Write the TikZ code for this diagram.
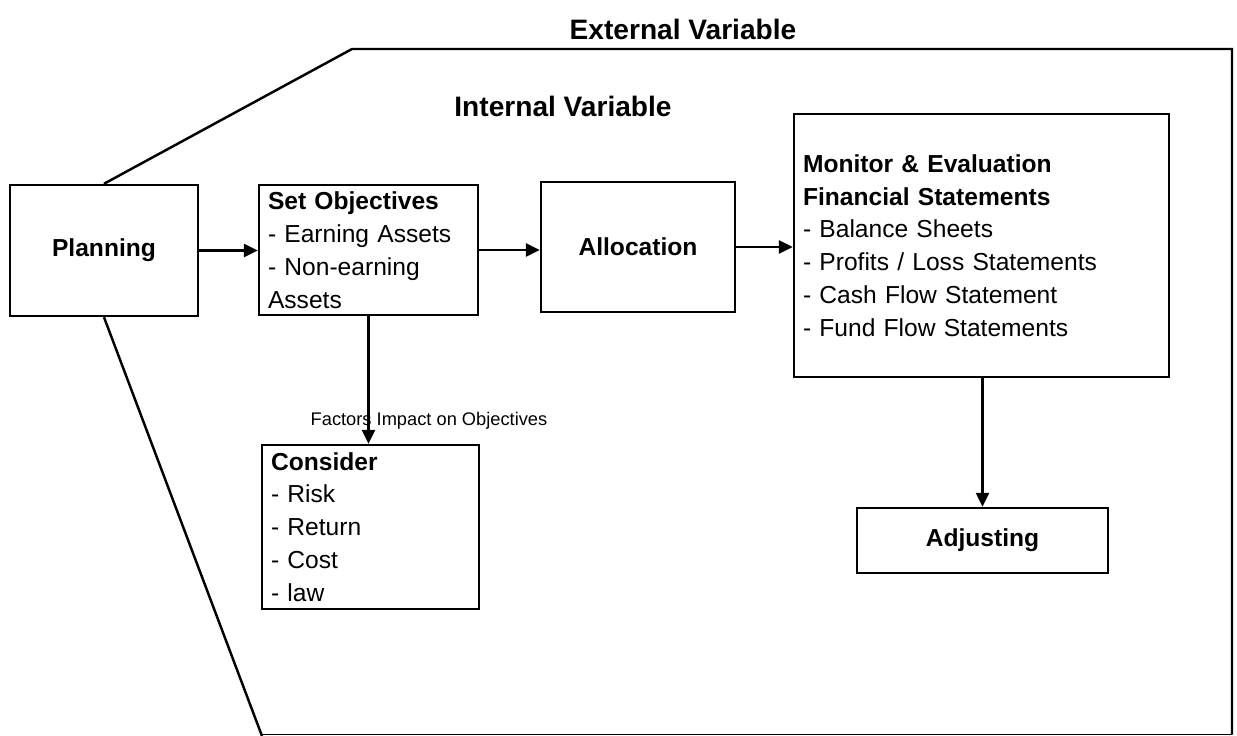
\documentclass[tikz,border=0pt]{standalone}
\usepackage{fontspec}
\setmainfont{Liberation Sans}
\usetikzlibrary{arrows.meta}
\begin{document}
\begin{tikzpicture}[x=0.02cm,y=-0.02cm,
  box/.style={draw, line width=1.4pt, rectangle, inner xsep=0.18cm, inner ysep=0pt,
    align=left, font=\fontsize{14pt}{18.7pt}\selectfont},
  cbox/.style={draw, line width=1.4pt, rectangle, align=center,
    font=\fontsize{14pt}{18.7pt}\selectfont\bfseries},
  arr/.style={line width=1.4pt, -{Triangle[length=0.28cm,width=0.26cm]}},
  border/.style={line width=1.4pt},
  head/.style={font=\fontsize{16pt}{19pt}\selectfont\bfseries}]
\useasboundingbox (0,0) rectangle (1237,736);

% titles
\node[head] (ext) at (683,29) {External Variable};
\node[head] (int) at (563,106) {Internal Variable};

% boxes
\node[cbox, minimum width=3.76cm, minimum height=2.62cm] (plan) at (104,250.5) {Planning};
\node[box, text width=4.02cm, minimum height=2.6cm] (obj) at (368.5,250)
  {\textbf{Set Objectives}\\- Earning Assets\\- Non-earning\\Assets};
\node[cbox, minimum width=3.88cm, minimum height=2.6cm] (alloc) at (638,247) {Allocation};
\node[box, text width=7.14cm, minimum height=5.26cm] (mon) at (981.5,245.5)
  {\textbf{Monitor \& Evaluation}\\\textbf{Financial Statements}\\- Balance Sheets\\- Profits / Loss Statements\\- Cash Flow Statement\\- Fund Flow Statements};
\node[box, text width=3.98cm, minimum height=3.28cm] (cons) at (370.5,527)
  {\textbf{Consider}\\- Risk\\- Return\\- Cost\\- law};
\node[cbox, minimum width=5.02cm, minimum height=1.3cm] (adj) at (982.5,540.5) {Adjusting};

% connectors
\draw[arr] (plan.east) -- (plan.east -| obj.west);
\draw[arr] (obj.east) -- (obj.east -| alloc.west);
\draw[arr] (alloc.east) -- (alloc.east -| mon.west);
\draw[arr] (obj.south) -- (obj.south |- cons.north);
\draw[arr] (mon.south -| adj.north) -- (adj.north);

\node[font=\fontsize{10.4pt}{12pt}\selectfont] (fac) at (429,421) {Factors Impact on Objectives};

% external boundary
\coordinate (tl) at (352,49);
\coordinate (tr) at (1232,49);
\coordinate (br) at (1232,734.5);
\coordinate (bl) at (262,734.5);
\coordinate (dend) at (262,736);
\draw[border] (plan.north) -- (tl) -- (tr) -- (br);
\draw[line width=1pt] (br) -- (bl);
\draw[border] (plan.south) -- (dend);
\end{tikzpicture}
\end{document}
